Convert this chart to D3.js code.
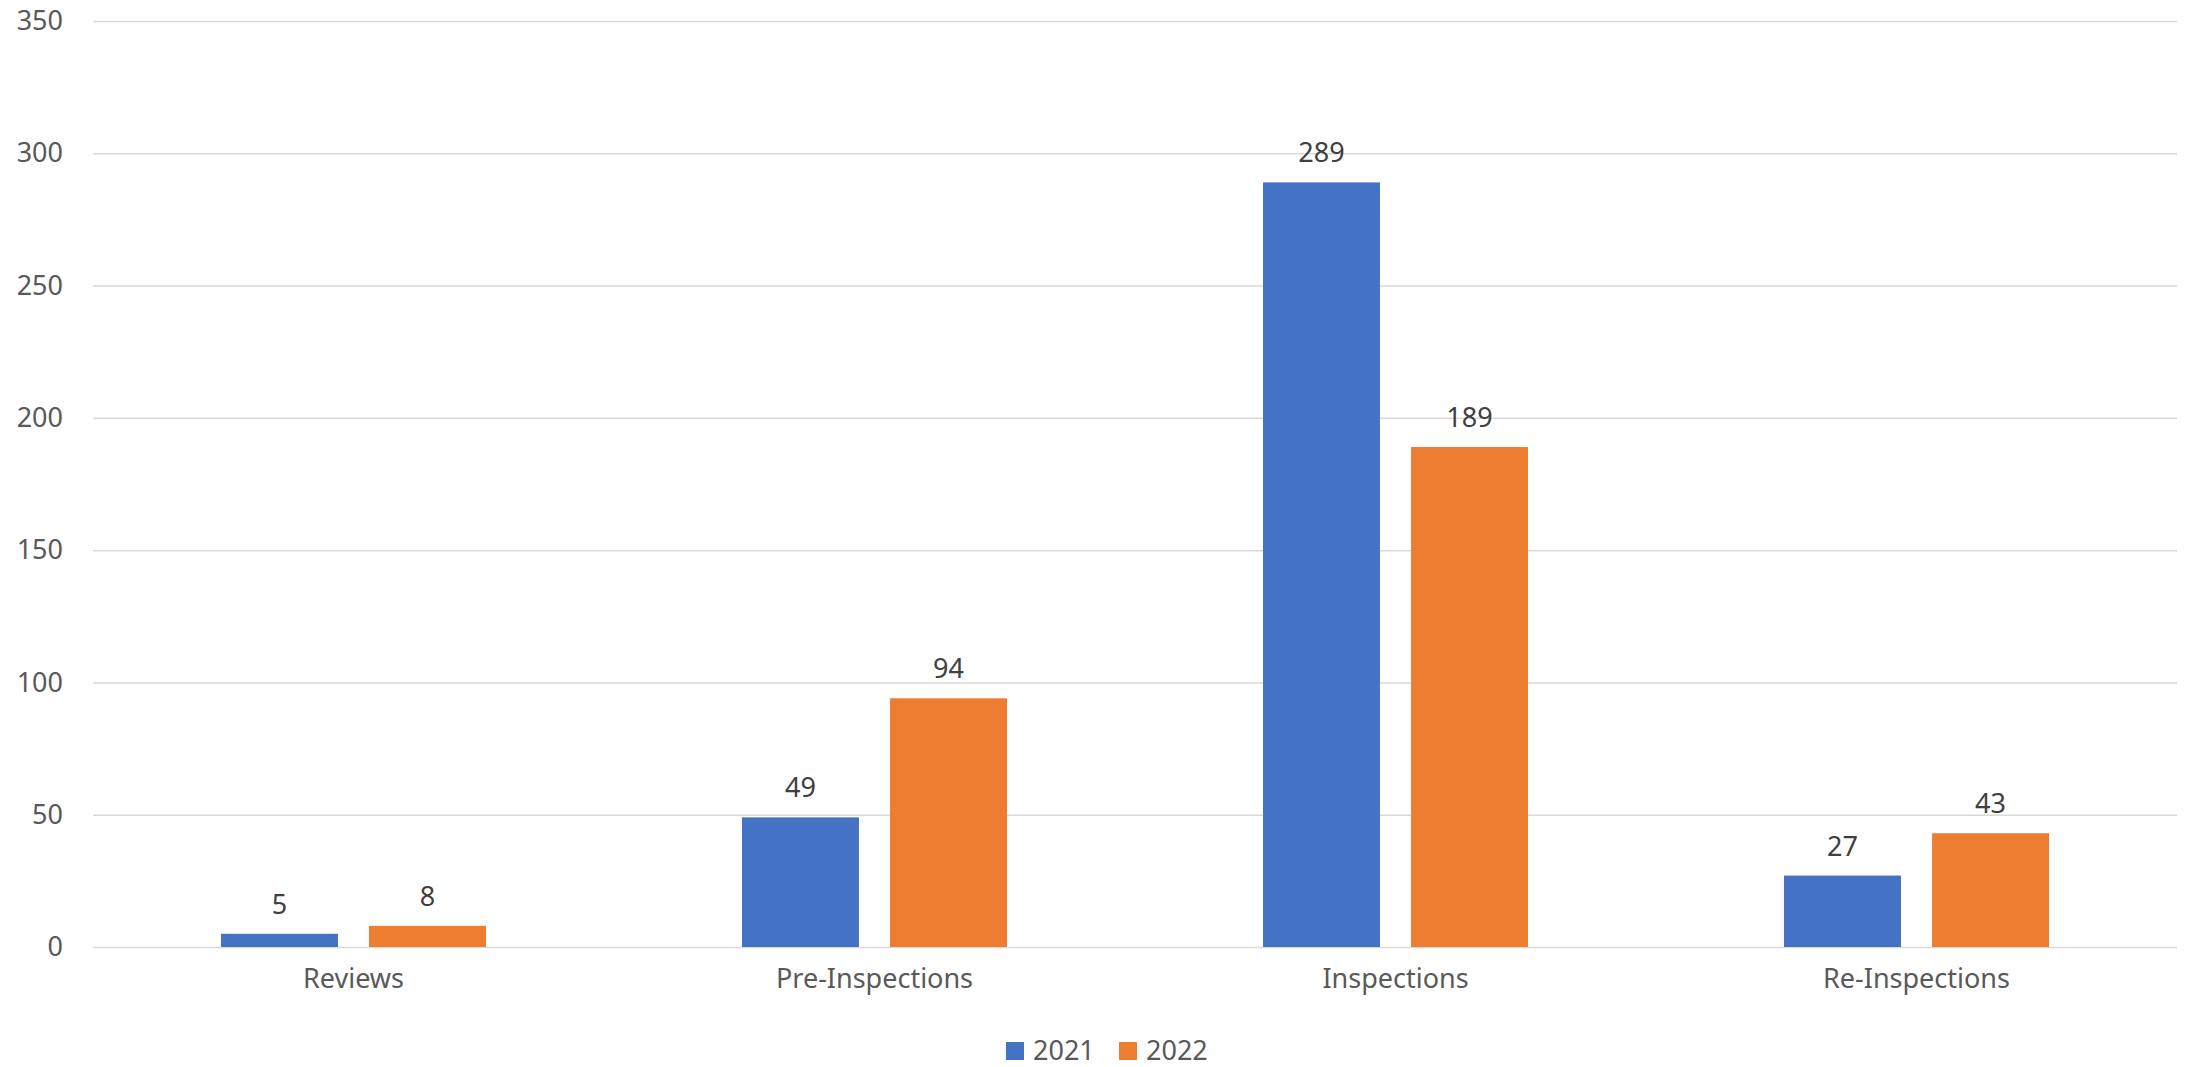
<!DOCTYPE html>
<html>
<head>
<meta charset="utf-8">
<script src="https://cdn.jsdelivr.net/npm/d3@7"></script>
<style>
  body { margin: 0; background: #fff; }
  text { font-family: "Noto Sans", "Open Sans", sans-serif; }
</style>
</head>
<body>
<svg id="chart"></svg>
<script>
/* Chart data. */
const categories = ["Reviews", "Pre-Inspections", "Inspections", "Re-Inspections"]
const seriesNames = ["2021", "2022"]
const values2021 = [5, 49, 289, 27]
const values2022 = [8, 94, 189, 43]
const yTicks = [0, 50, 100, 150, 200, 250, 300, 350]
const colors = ["#4472C4", "#ED7D31"]

/* Size and margins. */
const width = 2190
const height = 1067
const margin = { top: 21, right: 13, bottom: 120, left: 93 }
const innerW = width - margin.left - margin.right
const innerH = 947 - margin.top

const svg = d3.select("#chart")
  .attr("width", width)
  .attr("height", height)

const g = svg.append("g")
  .attr("transform", `translate(${margin.left},${margin.top})`)

/* Scales. */
const x0 = d3.scaleBand()
  .domain(categories)
  .range([0, innerW])
  .paddingInner(0)
  .paddingOuter(0)

const x1 = d3.scaleBand()
  .domain(seriesNames)
  .range([128, x0.bandwidth() - 128])
  .paddingInner(0.21)

const y = d3.scaleLinear()
  .domain([0, 350])
  .range([innerH, 0])

/* Grid. */
const yGrid = d3.axisLeft(y)
  .tickValues(yTicks)
  .tickSize(-innerW)
  .tickFormat("")

g.append("g")
  .call(yGrid)
  .call(s => s.select(".domain").remove())
  .selectAll("line")
  .attr("stroke", "#d9d9d9")
  .attr("stroke-width", 1.5)

/* Y-axis labels. */
const yAxis = d3.axisLeft(y)
  .tickValues(yTicks)
  .tickSize(0)
  .tickPadding(30)

g.append("g")
  .call(yAxis)
  .call(s => s.select(".domain").remove())
  .selectAll("text")
  .attr("font-size", 27)
  .attr("fill", "#595959")
  .attr("font-family", "Noto Sans")

/* X-axis labels. */
const xAxis = d3.axisBottom(x0)
  .tickSize(0)
  .tickPadding(22)

g.append("g")
  .attr("transform", `translate(0,${innerH})`)
  .call(xAxis)
  .call(s => s.select(".domain").remove())
  .selectAll("text")
  .attr("font-size", 27)
  .attr("fill", "#595959")
  .attr("font-family", "Noto Sans")

/* Bars. */
const rows = categories.map((c, i) => ({ cat: c, vals: [values2021[i], values2022[i]] }))

const groups = g.selectAll(".grp")
  .data(rows)
  .join("g")
  .attr("class", "grp")
  .attr("transform", d => `translate(${x0(d.cat)},0)`)

groups.selectAll("rect")
  .data(d => d.vals.map((v, j) => ({ key: seriesNames[j], v, j })))
  .join("rect")
  .attr("x", d => x1(d.key))
  .attr("width", x1.bandwidth())
  .attr("y", d => y(d.v))
  .attr("height", d => innerH - y(d.v))
  .attr("fill", d => colors[d.j])

/* Value labels. */
groups.selectAll(".lbl")
  .data(d => d.vals.map((v, j) => ({ key: seriesNames[j], v, j })))
  .join("text")
  .attr("class", "lbl")
  .attr("x", d => x1(d.key) + x1.bandwidth() / 2)
  .attr("y", d => y(d.v) - 20)
  .attr("text-anchor", "middle")
  .attr("font-size", 27)
  .attr("fill", "#404040")
  .text(d => d.v)

/* Legend. */
const legend = svg.append("g")
  .attr("transform", "translate(1006,1042)")

const items = legend.selectAll("g")
  .data(seriesNames)
  .join("g")
  .attr("transform", (d, i) => `translate(${i * 113},0)`)

items.append("rect")
  .attr("width", 18)
  .attr("height", 18)
  .attr("fill", (d, i) => colors[i])

items.append("text")
  .attr("x", 27)
  .attr("y", 18)
  .attr("font-size", 27)
  .attr("fill", "#595959")
  .text(d => d)
</script>
</body>
</html>
